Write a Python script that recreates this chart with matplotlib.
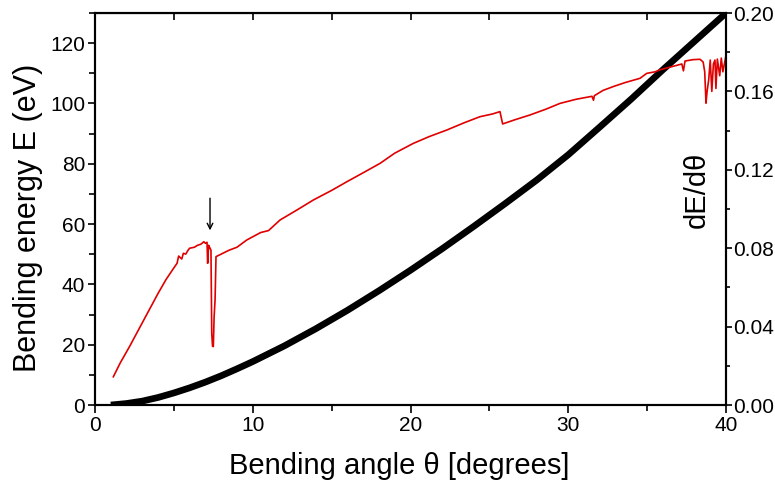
import numpy as np
import matplotlib
matplotlib.use("Agg")
import matplotlib.pyplot as plt
from matplotlib.ticker import MultipleLocator, FormatStrFormatter

# bending energy E (eV) vs bending angle (degrees)
theta_e = [1.0, 2.0, 3.0, 4.0, 5.0, 6.0, 7.0, 8.0, 9.0, 10.0, 12.0, 14.0,
           16.0, 18.0, 20.0, 22.0, 24.0, 26.0, 28.0, 30.0, 32.0, 34.0, 36.0,
           38.0, 40.0]
energy = [0.0, 0.5, 1.3, 2.5, 4.0, 5.7, 7.6, 9.7, 12.0, 14.4, 19.6, 25.3,
          31.4, 37.9, 44.7, 51.8, 59.2, 66.8, 74.6, 83.0, 92.2, 101.5, 111.2,
          120.6, 130.0]

# dE/dtheta, right axis
theta_d = [1.16, 1.6, 2.2, 2.8, 3.4, 4.0, 4.5, 5.0, 5.2, 5.3, 5.5, 5.6,
           5.75, 5.9, 6.0, 6.3, 6.5, 6.7, 6.9, 7.0, 7.1, 7.14, 7.2, 7.29, 7.35,
           7.40, 7.45, 7.5, 7.55, 7.61, 7.67, 8.0, 8.5, 9.0, 9.62, 10.5, 11.0,
           11.73, 12.8, 13.84, 15.0, 15.96, 17.0, 18.07, 19.0, 20.18, 21.2,
           22.3, 23.4, 24.4, 25.2, 25.67, 25.84, 26.6, 27.58, 28.6, 29.48,
           30.5, 31.5, 31.6, 31.65, 32.2, 32.86, 33.6, 34.55, 34.97, 35.5, 35.8,
           36.5, 37.2, 37.3, 37.4, 37.9, 38.35, 38.55, 38.65, 38.73, 38.8, 38.9,
           39.0, 39.1, 39.2, 39.3, 39.36, 39.45, 39.6, 39.7, 39.8, 40.0]
dE = [0.0144, 0.0215, 0.0300, 0.0390, 0.0480, 0.0570, 0.0640, 0.0700,
      0.0723, 0.0760, 0.0745, 0.0774, 0.0770, 0.0790, 0.0800, 0.0805, 0.0815,
      0.0820, 0.0833, 0.0825, 0.0830, 0.0723, 0.0815, 0.0800, 0.0790, 0.0366,
      0.0300, 0.0298, 0.0450, 0.0536, 0.0757, 0.0770, 0.0790, 0.0805, 0.0842,
      0.0880, 0.0890, 0.0944, 0.0995, 0.1046, 0.1095, 0.1139, 0.1185, 0.1233,
      0.1285, 0.1335, 0.1370, 0.1403, 0.1440, 0.1471, 0.1485, 0.1497, 0.1434,
      0.1455, 0.1480, 0.1510, 0.1539, 0.1560, 0.1575, 0.1555, 0.1578, 0.1605,
      0.1625, 0.1645, 0.1667, 0.1692, 0.1700, 0.1710, 0.1725, 0.1740, 0.1705,
      0.1755, 0.1762, 0.1764, 0.1750, 0.1700, 0.1540, 0.1600, 0.1658, 0.1760,
      0.1600, 0.1740, 0.1760, 0.1615, 0.1765, 0.1680, 0.1770, 0.1700, 0.1785]


def main():
    plt.rcParams["font.family"] = ["Liberation Sans", "DejaVu Sans"]
    fig = plt.figure(figsize=(7.75, 4.84), dpi=100)
    ax = fig.add_axes([0.1226, 0.1632, 0.8142, 0.8099])
    ax2 = ax.twinx()

    ax.plot(theta_e, energy, color="black", lw=4.8, solid_capstyle="butt",
            solid_joinstyle="round", zorder=3)
    ax2.plot(theta_d, dE, color="#e00000", lw=1.2, zorder=2)

    ax.set_xlim(0, 40)
    ax.set_ylim(0, 130)
    ax2.set_ylim(0, 0.20)

    ax.xaxis.set_major_locator(MultipleLocator(10))
    ax.xaxis.set_minor_locator(MultipleLocator(5))
    ax.yaxis.set_major_locator(MultipleLocator(20))
    ax.yaxis.set_minor_locator(MultipleLocator(10))
    ax2.yaxis.set_major_locator(MultipleLocator(0.04))
    ax2.yaxis.set_minor_locator(MultipleLocator(0.02))
    ax2.yaxis.set_major_formatter(FormatStrFormatter("%.2f"))

    ax.tick_params(axis="x", which="both", direction="out", top=False, labelsize=15, pad=2)
    ax.tick_params(axis="x", which="major", length=6, width=1.2)
    ax.tick_params(axis="x", which="minor", length=4, width=1.2)
    ax.tick_params(axis="y", which="major", direction="out", length=5, width=1.2, labelsize=15, pad=2)
    ax.tick_params(axis="y", which="minor", direction="out", length=4, width=1.2)
    ax2.tick_params(axis="y", which="major", direction="out", length=4, width=1.2, labelsize=15, pad=1)
    ax2.tick_params(axis="y", which="minor", direction="out", length=3, width=1.2)
    for a in (ax, ax2):
        for s in a.spines.values():
            s.set_linewidth(1.5)

    # inward ticks on the top spine
    top = ax.secondary_xaxis("top")
    top.xaxis.set_major_locator(MultipleLocator(5))
    top.tick_params(direction="in", length=5, width=1.2, labeltop=False)

    ax.set_xlabel("Bending angle θ [degrees]", fontsize=21)
    ax.xaxis.set_label_coords(0.482, -0.12)
    ax.set_ylabel("Bending energy E (eV)", fontsize=22)
    ax.yaxis.set_label_coords(-0.082, 0.477)
    ax2.text(0.953, 0.55, "dE/dθ", transform=ax2.transAxes, rotation=90,
             fontsize=21, ha="center", va="center")

    ax.annotate("", xy=(7.29, 57.0), xytext=(7.29, 69.5),
                arrowprops=dict(arrowstyle="->", color="black", lw=1.0))

    fig.savefig("out.png", dpi=100)


if __name__ == "__main__":
    main()
